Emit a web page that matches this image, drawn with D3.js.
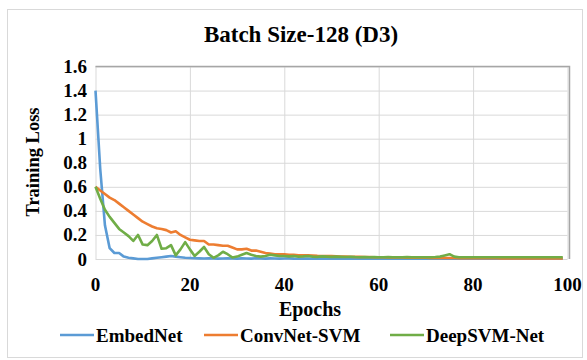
<!DOCTYPE html>
<html>
<head>
<meta charset="utf-8">
<script src="https://cdn.jsdelivr.net/npm/d3@7"></script>
</head>
<body style="margin:0">
<svg width="587" height="360"></svg>
<script>
  const epochs = d3.range(0, 100);
  const seriesNames = ["EmbedNet", "ConvNet-SVM", "DeepSVM-Net"];
  const seriesColors = ["#5b9bd5", "#ed7d31", "#70ad47"];
  const xTicks = [0, 20, 40, 60, 80, 100];
  const yTicks = [0, 0.2, 0.4, 0.6, 0.8, 1, 1.2, 1.4, 1.6];

  const embedNet = [
    1.40, 0.75, 0.28, 0.09, 0.05, 0.05, 0.02, 0.01, 0.005, 0,
    0, 0, 0.005, 0.01, 0.015, 0.02, 0.025, 0.02, 0.015, 0.01,
    0.008, 0.006, 0.005, 0.004, 0.006, 0.005, 0.003, 0.004, 0.006, 0.004,
    0.003, 0.005, 0.004, 0.003, 0.006, 0.004, 0.003, 0.005, 0.004, 0.003,
    0.004, 0.005, 0.003, 0.002, 0.004, 0.003, 0.002, 0.003, 0.002, 0.003,
    0.002, 0.002, 0.003, 0.002, 0.002, 0.002, 0.003, 0.002, 0.002, 0.002,
    0.002, 0.002, 0.002, 0.002, 0.002, 0.002, 0.002, 0.002, 0.002, 0.002,
    0.002, 0.002, 0.002, 0.002, 0.002, 0.002, 0.002, 0.002, 0.002, 0.002,
    0.002, 0.002, 0.002, 0.002, 0.002, 0.002, 0.002, 0.002, 0.002, 0.002,
    0.002, 0.002, 0.002, 0.002, 0.002, 0.002, 0.002, 0.002, 0.002, 0.002
  ];
  const convNetSvm = [
    0.60, 0.57, 0.54, 0.51, 0.49, 0.46, 0.43, 0.40, 0.37, 0.34,
    0.31, 0.29, 0.27, 0.255, 0.25, 0.24, 0.22, 0.23, 0.20, 0.18,
    0.16, 0.155, 0.15, 0.15, 0.12, 0.12, 0.115, 0.11, 0.11, 0.095,
    0.08, 0.08, 0.085, 0.07, 0.07, 0.06, 0.05, 0.045, 0.04, 0.04,
    0.04, 0.035, 0.035, 0.03, 0.03, 0.03, 0.028, 0.026, 0.025, 0.025,
    0.024, 0.022, 0.02, 0.02, 0.019, 0.018, 0.018, 0.017, 0.016, 0.015,
    0.015, 0.014, 0.013, 0.013, 0.012, 0.012, 0.011, 0.011, 0.01, 0.01,
    0.01, 0.009, 0.009, 0.009, 0.008, 0.008, 0.008, 0.007, 0.007, 0.007,
    0.007, 0.006, 0.006, 0.006, 0.006, 0.006, 0.005, 0.005, 0.005, 0.005,
    0.005, 0.005, 0.005, 0.005, 0.004, 0.004, 0.004, 0.004, 0.004, 0.004
  ];
  const deepSvmNet = [
    0.60, 0.50, 0.41, 0.35, 0.30, 0.25, 0.22, 0.19, 0.15, 0.20,
    0.12, 0.115, 0.15, 0.20, 0.085, 0.09, 0.115, 0.03, 0.08, 0.14,
    0.08, 0.025, 0.06, 0.10, 0.04, 0.01, 0.03, 0.06, 0.04, 0.012,
    0.02, 0.035, 0.05, 0.035, 0.025, 0.02, 0.025, 0.035, 0.03, 0.025,
    0.025, 0.022, 0.025, 0.02, 0.022, 0.025, 0.02, 0.018, 0.022, 0.02,
    0.018, 0.02, 0.018, 0.016, 0.018, 0.016, 0.015, 0.016, 0.015, 0.016,
    0.015, 0.015, 0.016, 0.015, 0.015, 0.015, 0.016, 0.015, 0.015, 0.015,
    0.015, 0.015, 0.016, 0.02, 0.03, 0.04, 0.02, 0.015, 0.015, 0.015,
    0.015, 0.015, 0.015, 0.015, 0.015, 0.015, 0.015, 0.015, 0.015, 0.015,
    0.015, 0.015, 0.015, 0.015, 0.015, 0.015, 0.015, 0.015, 0.015, 0.015
  ];
  const seriesValues = [embedNet, convNetSvm, deepSvmNet];

  const svg = d3.select("svg");
  const font = "Liberation Serif";

  // outer chart border
  svg.append("rect")
    .attr("x", 7.5).attr("y", 9.5)
    .attr("width", 575).attr("height", 348)
    .attr("fill", "#fff").attr("stroke", "#d9d9d9");

  const x = d3.scaleLinear().domain([0, 100]).range([95.5, 567.5]);
  const y = d3.scaleLinear().domain([0, 1.6]).range([259, 66.5]);

  // gridlines
  svg.append("g").call(d3.axisLeft(y).tickValues(yTicks).tickSize(-(x(100) - x(0))).tickFormat(""))
    .attr("transform", `translate(${x(0)},0)`)
    .call(g => g.select(".domain").remove())
    .call(g => g.selectAll("line").attr("stroke", "#d9d9d9"));
  svg.append("g").call(d3.axisBottom(x).tickValues(xTicks).tickSize(-(y(0) - y(1.6))).tickFormat(""))
    .attr("transform", `translate(0,${y(0)})`)
    .call(g => g.select(".domain").remove())
    .call(g => g.selectAll("line").attr("stroke", "#d9d9d9"));

  // plot border (darker top/right)
  svg.append("path")
    .attr("d", `M${x(0)},${y(1.6)}H${x(100) + 2}V${y(0)}`)
    .attr("fill", "none").attr("stroke", "#a6a6a6").attr("stroke-width", 1.5);

  // tick labels
  svg.append("g").selectAll("text").data(yTicks).join("text")
    .attr("x", 87).attr("y", d => y(d) + 6.5)
    .attr("font-family", font).style("font-family", font).attr("font-weight", "bold")
    .attr("text-anchor", "end").attr("font-size", 19)
    .text(d => d3.format("")(d));
  svg.append("g").selectAll("text").data(xTicks).join("text")
    .attr("x", d => x(d)).attr("y", 291)
    .attr("font-family", font).style("font-family", font).attr("font-weight", "bold")
    .attr("text-anchor", "middle").attr("font-size", 19)
    .text(d => d);

  // lines
  const line = d3.line().x((d, i) => x(epochs[i])).y(d => y(d));
  svg.append("g").selectAll("path").data(seriesValues).join("path")
    .attr("d", line)
    .attr("fill", "none")
    .attr("stroke", (d, i) => seriesColors[i])
    .attr("stroke-width", 2.6)
    .attr("stroke-linejoin", "round");

  // titles
  svg.append("text").attr("x", 301).attr("y", 42)
    .attr("font-family", font).style("font-family", font).attr("font-weight", "bold")
    .attr("text-anchor", "middle").attr("font-size", 23)
    .text("Batch Size-128 (D3)");
  svg.append("text").attr("transform", "translate(39,162) rotate(-90)")
    .attr("font-family", font).style("font-family", font).attr("font-weight", "bold")
    .attr("text-anchor", "middle").attr("font-size", 18.5)
    .text("Training Loss");
  svg.append("text").attr("x", 310).attr("y", 316)
    .attr("font-family", font).style("font-family", font).attr("font-weight", "bold")
    .attr("text-anchor", "middle").attr("font-size", 20)
    .text("Epochs");

  // legend
  const legendX = [60, 204, 390];
  const legend = svg.append("g").selectAll("g").data(seriesNames).join("g")
    .attr("transform", (d, i) => `translate(${legendX[i]},335)`);
  legend.append("line").attr("x1", 0).attr("x2", 34)
    .attr("stroke", (d, i) => seriesColors[i]).attr("stroke-width", 2.6);
  legend.append("text").attr("x", 36).attr("y", 6.5)
    .attr("font-family", font).style("font-family", font).attr("font-weight", "bold")
    .attr("font-size", 19).text(d => d);
</script>
</body>
</html>
